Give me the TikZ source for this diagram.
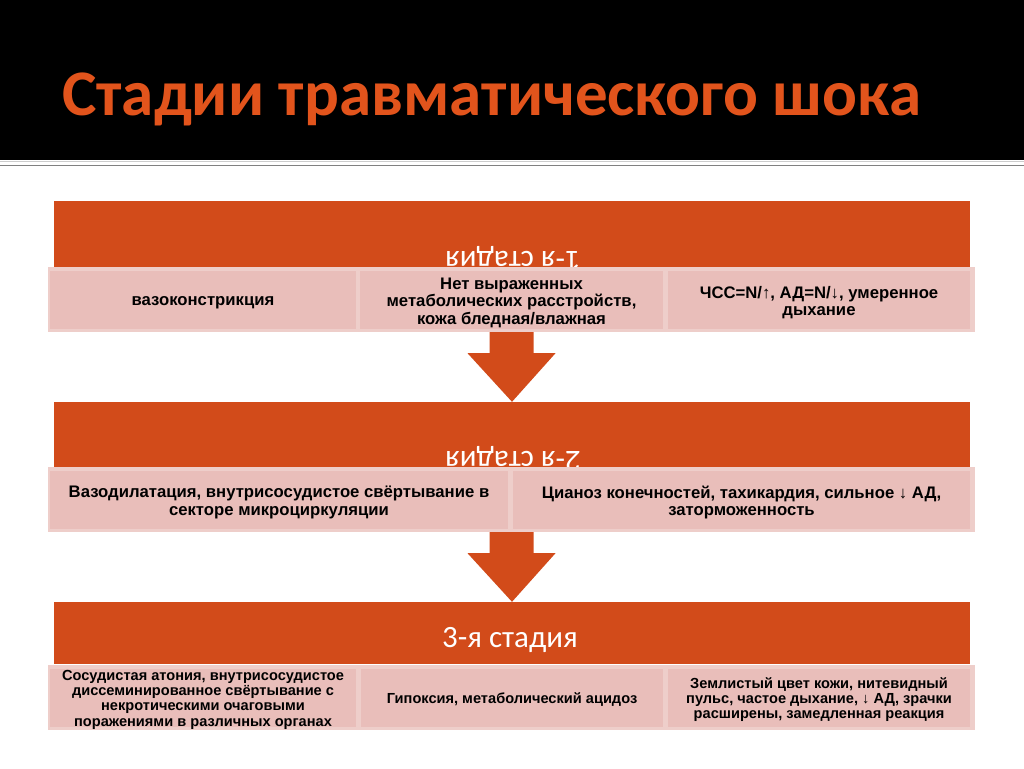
\documentclass[tikz,border=0pt]{standalone}
\usepackage{fontspec}
\setmainfont{Liberation Sans}
\newfontfamily\calfont{Carlito}
\usetikzlibrary{calc}

\definecolor{shockorange}{RGB}{210,75,26}
\definecolor{titleorange}{RGB}{226,84,28}
\definecolor{rowpink}{RGB}{238,206,202}
\definecolor{cellpink}{RGB}{233,190,186}

\begin{document}
\begin{tikzpicture}[x=1pt, y=-1pt,
	band/.style={fill=shockorange, minimum width=916pt, inner sep=0pt},
	stagelabel/.style={text=white, font=\calfont\fontsize{31}{34}\selectfont, inner sep=0pt},
	row/.style={fill=rowpink, minimum width=927pt, minimum height=65pt, inner sep=0pt},
	cell/.style={fill=cellpink, minimum height=58pt, inner sep=0pt},
	celltext/.style={align=center, inner sep=0pt, yshift=-2.5pt, font=\bfseries\fontsize{16.7}{17.5}\selectfont},
	smalltext/.style={celltext, yshift=0.5pt, font=\bfseries\fontsize{14.6}{15.3}\selectfont},
	blockarrow/.style={fill=shockorange}]
	\useasboundingbox (0,0) rectangle (1024,768);
	% header
	\fill[black] (0,0) rectangle (1024,160);
	\draw[gray!40, line width=1pt] (0,161.5) -- (1024,161.5);
	\draw[gray, line width=1.2pt] (0,165.5) -- (1024,165.5);
	\node[anchor=base west, inner sep=0pt, text=titleorange, font=\calfont\bfseries\fontsize{65}{70}\selectfont] (title) at (62,115) {Стадии травматического шока};
	% stage 1
	\node[band, minimum height=66pt] (band1) at (512,234) {};
	\node[stagelabel, rotate=180, anchor=base] (lab1) at (513,251) {1-я стадия};
	\node[row] (row1) at (511.5,299.5) {};
	\node[cell, minimum width=306pt] (c11) at (203,300) {};
	\node[cell, minimum width=303pt] (c12) at (511.5,300) {};
	\node[cell, minimum width=302pt] (c13) at (819,300) {};
	\node[celltext] (t11) at (c11) {вазоконстрикция};
	\node[celltext] (t12) at (c12) {Нет выраженных\\метаболических расстройств,\\кожа бледная/влажная};
	\node[celltext] (t13) at (c13) {ЧСС=N/↑, АД=N/↓, умеренное\\дыхание};
	% stage 2
	\node[band, minimum height=65pt] (band2) at (512,434.5) {};
	\node[stagelabel, rotate=180, anchor=base] (lab2) at (513,451) {2-я стадия};
	\node[row] (row2) at (511.5,499.5) {};
	\node[cell, minimum width=458pt] (c21) at (279,500) {};
	\node[cell, minimum width=457pt] (c22) at (741.5,500) {};
	\node[celltext] (t21) at (c21) {Вазодилатация, внутрисосудистое свёртывание в\\секторе микроциркуляции};
	\node[celltext] (t22) at (c22) {Цианоз конечностей, тахикардия, сильное ↓ АД,\\заторможенность};
	% stage 3
	\node[band, minimum height=62pt] (band3) at (512,633) {};
	\node[stagelabel, anchor=base] (lab3) at (510,647) {3-я стадия};
	\node[row] (row3) at (511.5,697) {};
	\node[cell, minimum width=306pt] (c31) at (203,697.5) {};
	\node[cell, minimum width=302pt] (c32) at (512,697.5) {};
	\node[cell, minimum width=302pt] (c33) at (819,697.5) {};
	\node[smalltext] (t31) at (c31) {Сосудистая атония, внутрисосудистое\\диссеминированное свёртывание с\\некротическими очаговыми\\поражениями в различных органах};
	\node[smalltext] (t32) at (c32) {Гипоксия, метаболический ацидоз};
	\node[smalltext] (t33) at (c33) {Землистый цвет кожи, нитевидный\\пульс, частое дыхание, ↓ АД, зрачки\\расширены, замедленная реакция};
	% arrows between stages
	\fill[blockarrow] ($(row1.south)+(-22,0)$) -- ++(0,21) -- ++(-22,0) -- ($(band2.north)$)
	  -- ($(row1.south)+(44,21)$) -- ++(-22,0) -- ++(0,-21) -- cycle;
	\fill[blockarrow] ($(row2.south)+(-22,0)$) -- ++(0,21) -- ++(-22,0) -- ($(band3.north)$)
	  -- ($(row2.south)+(44,21)$) -- ++(-22,0) -- ++(0,-21) -- cycle;
\end{tikzpicture}
\end{document}
